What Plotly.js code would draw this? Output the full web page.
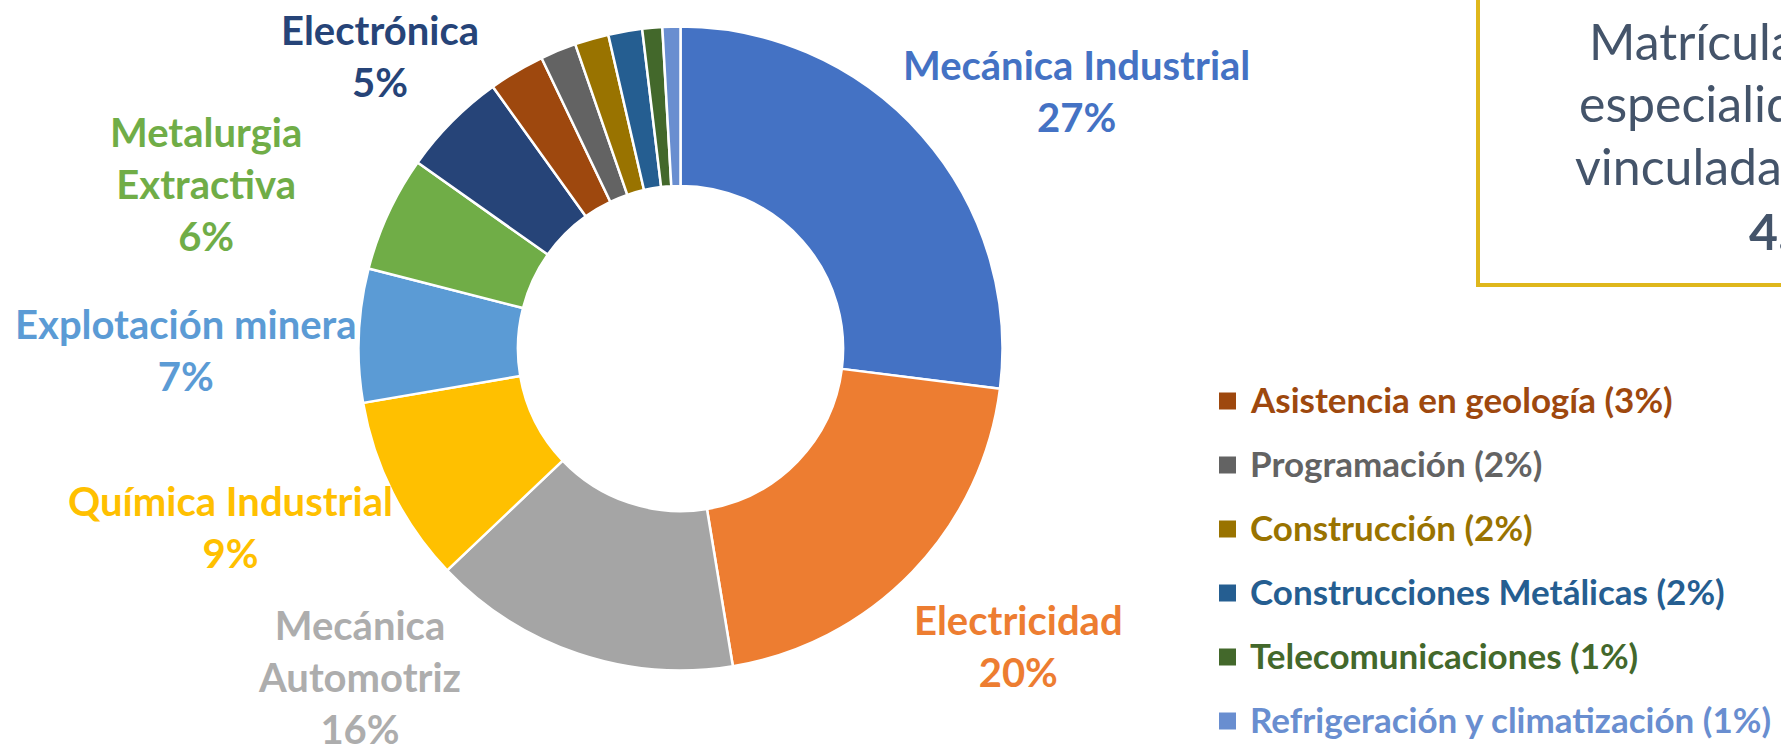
<!DOCTYPE html>
<html>
<head>
<meta charset="utf-8">
<script src="https://cdn.plot.ly/plotly-3.0.1.min.js"></script>
<style>
  html, body { margin: 0; padding: 0; background: #ffffff; overflow: hidden; }
  #chart { width: 1781px; height: 752px; }
</style>
</head>
<body>
<div id="chart"></div>
<script>
// ---- data ----
const categories = [
  'Mecánica Industrial', 'Electricidad', 'Mecánica Automotriz', 'Química Industrial',
  'Explotación minera', 'Metalurgia Extractiva', 'Electrónica', 'Asistencia en geología',
  'Programación', 'Construcción', 'Construcciones Metálicas', 'Telecomunicaciones',
  'Refrigeración y climatización'
];
const values = [27.0, 20.4, 15.5, 9.4, 6.7, 5.8, 5.3, 2.8, 1.8, 1.7, 1.7, 1.0, 0.9];
const colors = [
  '#4472C4', '#ED7D31', '#A5A5A5', '#FFC000', '#5B9BD5', '#70AD47', '#264478',
  '#9E480E', '#636363', '#997300', '#255E91', '#43682B', '#698ED0'
];
const labelColors = [
  '#4472C4', '#ED7D31', '#ADADAD', '#FFC000', '#5B9BD5', '#70AD47', '#264478'
];
// display text for the labelled slices (line breaks as in the reference)
const labelLines = [
  'Mecánica Industrial', 'Electricidad', 'Mecánica<br>Automotriz', 'Química Industrial',
  'Explotación minera', 'Metalurgia<br>Extractiva', 'Electrónica'
];
const legendIdx = [7, 8, 9, 10, 11, 12];
const boxLines = ['Matrícula', 'especialidades', 'vinculadas', '<b>4.</b>'];

// ---- layout helpers (pixel -> paper) ----
const W = 1781, H = 752;
const px = x => x / W;
const py = y => 1 - y / H;

// label centres in pixels (layout only)
const labelPos = [
  [1076, 91], [1018, 646], [359, 677], [230, 527], [186, 350], [206, 184], [380, 56]
];

const pct = v => Math.round(v) + '%';

const annotations = [];
labelLines.forEach((t, i) => {
  annotations.push({
    xref: 'paper', yref: 'paper', x: px(labelPos[i][0]), y: py(labelPos[i][1]),
    xanchor: 'center', yanchor: 'middle', showarrow: false, align: 'center',
    text: t + '<br>' + pct(values[i]),
    font: { family: 'Lato', size: 40, color: labelColors[i], weight: 'bold' }
  });
});

const shapes = [];
const legTop = 401, legStep = 64;
legendIdx.forEach((k, j) => {
  const cy = legTop + j * legStep;
  shapes.push({
    type: 'rect', xref: 'paper', yref: 'paper',
    x0: px(1219), x1: px(1236), y0: py(cy + 8.5), y1: py(cy - 8.5),
    fillcolor: colors[k], line: { width: 0 }
  });
  annotations.push({
    xref: 'paper', yref: 'paper', x: px(1248), y: py(cy - 2),
    xanchor: 'left', yanchor: 'middle', showarrow: false,
    text: categories[k] + ' (' + pct(values[k]) + ')',
    font: { family: 'Lato', size: 35, color: colors[k], weight: 'bold' }
  });
});

// info box (extends beyond the right/top edge)
shapes.push({
  type: 'rect', xref: 'paper', yref: 'paper',
  x0: px(1478), x1: px(2100), y0: py(285), y1: py(-40),
  fillcolor: 'rgba(0,0,0,0)', line: { color: '#DFB71C', width: 4 }
});
const boxX = [1587, 1577, 1573, 1747];
const boxBase = [60, 122, 185, 250];
boxLines.forEach((t, i) => {
  annotations.push({
    xref: 'paper', yref: 'paper', x: px(boxX[i]), y: py(boxBase[i] - 19),
    xanchor: 'left', yanchor: 'middle', showarrow: false,
    text: t,
    font: { family: 'Lato', size: 50, color: '#44546A' }
  });
});

const trace = {
  type: 'pie',
  labels: categories,
  values: values,
  sort: false,
  direction: 'clockwise',
  rotation: 0,
  hole: 0.505,
  textinfo: 'none',
  hoverinfo: 'label+percent',
  marker: { colors: colors, line: { color: '#ffffff', width: 2.5 } },
  domain: { x: [px(358.5), px(1002.5)], y: [py(670.5), py(26.5)] },
  showlegend: false
};

const layout = {
  width: W, height: H,
  margin: { l: 0, r: 0, t: 0, b: 0 },
  paper_bgcolor: '#ffffff',
  plot_bgcolor: '#ffffff',
  showlegend: false,
  annotations: annotations,
  shapes: shapes,
  font: { family: 'Lato' }
};

Plotly.newPlot('chart', [trace], layout, { displayModeBar: false, staticPlot: true });
</script>
</body>
</html>
